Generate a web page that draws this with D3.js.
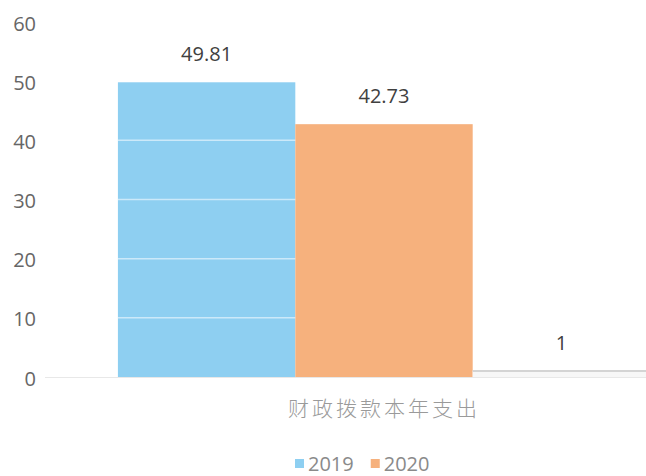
<!DOCTYPE html>
<html>
<head>
<meta charset="utf-8">
<script src="https://cdn.jsdelivr.net/npm/d3@7"></script>
<style>
  html, body { margin: 0; padding: 0; background: #fff; }
  svg { display: block; font-family: "Open Sans", "Noto Sans", sans-serif; }
</style>
</head>
<body>
<div id="chart"></div>
<script>
const categories = ["财政拨款本年支出"];
const seriesNames = ["2019", "2020", ""];
const values2019 = [49.81];
const values2020 = [42.73];
const values3 = [1];
const yTicks = [0, 10, 20, 30, 40, 50, 60];

const seriesValues = [values2019, values2020, values3];
const colors = ["#8ecff1", "#f6b17d", "#f7f7f7"];

const width = 646;
const height = 476;
const margin = { top: 22, bottom: 99, left: 45 };

const svg = d3.select("#chart").append("svg")
  .attr("width", width)
  .attr("height", height)
  .attr("viewBox", [0, 0, width, height]);

const y = d3.scaleLinear()
  .domain([0, 60])
  .range([height - margin.bottom, margin.top]);

// single category band, wide enough that the last bar runs off the right edge
const x0 = d3.scaleBand()
  .domain(categories)
  .range([margin.left, 723])
  .paddingOuter(0.137)
  .paddingInner(0);

const x1 = d3.scaleBand()
  .domain(d3.range(seriesNames.length))
  .range([0, x0.bandwidth()]);

// y axis labels only
svg.append("g")
  .attr("transform", `translate(36,0)`)
  .call(d3.axisLeft(y).tickValues(yTicks).tickSize(0).tickPadding(0))
  .attr("font-family", null)
  .call((g) => g.select(".domain").remove())
  .call((g) => g.selectAll(".tick text")
    .attr("font-size", 20)
    .attr("fill", "#666")
    .attr("dy", "0.4em"));

// baseline
svg.append("line")
  .attr("x1", margin.left)
  .attr("x2", width)
  .attr("y1", y(0) + 0.5)
  .attr("y2", y(0) + 0.5)
  .attr("stroke", "#e8e8e8");

const groups = svg.append("g")
  .selectAll("g")
  .data(categories)
  .join("g")
  .attr("transform", (d) => `translate(${x0(d)},0)`);

const bars = groups.selectAll("g.bar")
  .data((d, ci) => seriesValues.map((vals, si) => ({ si, v: vals[ci] })))
  .join("g")
  .attr("class", "bar");

bars.append("rect")
  .attr("x", (d) => x1(d.si))
  .attr("y", (d) => y(d.v))
  .attr("width", x1.bandwidth())
  .attr("height", (d) => y(0) - y(d.v))
  .attr("fill", (d) => colors[d.si]);

// top edge of the pale third bar
bars.filter((d) => d.si === 2)
  .append("line")
  .attr("x1", (d) => x1(d.si))
  .attr("x2", (d) => x1(d.si) + x1.bandwidth())
  .attr("y1", (d) => y(d.v))
  .attr("y2", (d) => y(d.v))
  .attr("stroke", "#d4d4d4")
  .attr("stroke-width", 2);

// faint gridlines showing through the bars
svg.append("g")
  .selectAll("line")
  .data(yTicks.filter((t) => t > 0 && t < 50))
  .join("line")
  .attr("x1", x0(categories[0]))
  .attr("x2", x0(categories[0]) + x1.bandwidth())
  .attr("y1", (d) => y(d))
  .attr("y2", (d) => y(d))
  .attr("stroke", "#fff")
  .attr("stroke-opacity", 0.55)
  .attr("stroke-width", 1.5);

bars.append("text")
  .attr("x", (d) => x1(d.si) + x1.bandwidth() / 2)
  .attr("y", (d) => y(d.v) - 21)
  .attr("text-anchor", "middle")
  .attr("font-size", 20)
  .attr("fill", "#404040")
  .text((d) => d.v);

// category label
svg.append("g")
  .selectAll("text")
  .data(categories)
  .join("text")
  .attr("x", (d) => x0(d) + x0.bandwidth() / 2)
  .attr("y", 416)
  .attr("text-anchor", "middle")
  .attr("font-family", "'Noto Sans CJK SC', sans-serif")
  .attr("font-size", 21)
  .attr("font-weight", 300)
  .attr("letter-spacing", 3)
  .attr("fill", "#9a9a9a")
  .text((d) => d);

// legend
const legendItems = seriesNames.filter((n) => n !== "");
const legend = svg.append("g").attr("transform", "translate(295,464)");
let lx = 0;
legendItems.forEach((name, i) => {
  const item = legend.append("g").attr("transform", `translate(${lx},0)`);
  item.append("rect")
    .attr("x", 0)
    .attr("y", -5)
    .attr("width", 9)
    .attr("height", 9)
    .attr("fill", colors[i]);
  const t = item.append("text")
    .attr("x", 13)
    .attr("y", 0)
    .attr("dy", "0.36em")
    .attr("font-size", 20)
    .attr("fill", "#8a8a8a")
    .text(name);
  lx += 13 + t.node().getComputedTextLength() + 17;
});
</script>
</body>
</html>
